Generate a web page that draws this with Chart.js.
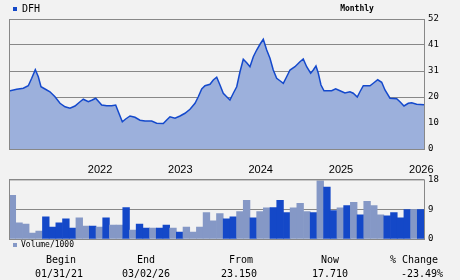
<!DOCTYPE html>
<html>
<head>
<meta charset="utf-8">
<script src="https://cdn.jsdelivr.net/npm/chart.js@4.4.0/dist/chart.umd.min.js"></script>
<style>
  html, body { margin: 0; padding: 0; background: #f2f2f2; }
  #wrap { position: relative; width: 460px; height: 280px; overflow: hidden; font-family: "DejaVu Sans Mono", monospace; color: #000; }
  canvas { position: absolute; left: 0; }
  #priceChart { top: 0; }
  #volChart { top: 170px; }
  .sq { position: absolute; width: 4px; height: 4px; }
  .txt { position: absolute; white-space: nowrap; line-height: 12px; }
  .stat { position: absolute; width: 100px; margin-left: -50px; text-align: center; font-size: 10px; line-height: 12px; }
</style>
</head>
<body>
<div id="wrap">
  <canvas id="priceChart" width="460" height="180"></canvas>
  <canvas id="volChart" width="460" height="80"></canvas>
  <div class="sq" style="left:13px; top:7px; background:#1448c8;"></div>
  <div class="txt" id="ticker" style="left:22px; top:3px; font-size:10px;"></div>
  <div class="txt" id="period" style="left:357px; top:3px; font-size:8px; font-weight:bold; transform:translateX(-50%);"></div>
  <div class="sq" style="left:13px; top:243px; background:#8598c6;"></div>
  <div class="txt" id="volLabel" style="left:21px; top:239px; font-size:8px;"></div>
  <div id="stats"></div>
</div>
<script>
// DFH monthly, x in months from left edge of the plot
const ticker = 'DFH';
const period = 'Monthly';
const yearLabels = ['2022', '2023', '2024', '2025', '2026'];
const firstYearAt = 13.6;
const priceTicks = [0, 10.4, 20.8, 31.2, 41.6, 52];
const volTicks = [0, 9, 18];

const priceMonth = [0, 1.15, 2.14, 2.88, 3.39, 3.93, 4.38, 4.78, 5.38, 6.12, 6.87, 7.62, 8.37, 9.11, 9.86,
  10.61, 11.1, 11.85, 12.44, 12.95, 13.85, 14.6, 15.34, 15.94, 16.33, 16.93, 17.43, 18.08, 18.82, 19.57,
  20.32, 21.32, 22.06, 23.05, 23.56, 24.05, 24.8, 25.55, 26.29, 27.04, 27.79, 28.28, 28.79, 29.28, 30.03,
  30.52, 31.03, 31.52, 32.01, 32.52, 33.01, 33.51, 34.02, 34.51, 35, 35.51, 36, 36.5, 37, 37.5, 37.99,
  38.5, 38.99, 39.48, 39.99, 40.48, 40.98, 41.48, 41.98, 42.72, 43.47, 43.96, 44.47, 45.07, 45.46, 45.86,
  46.21, 46.61, 47.06, 48.21, 48.8, 49.45, 50.19, 50.94, 51.43, 52.03, 52.43, 52.93, 53.93, 54.42, 55.08,
  55.68, 56.17, 56.92, 57.92, 58.41, 59.01, 59.65, 60.16, 60.9, 62];
const price = [23.2, 23.9, 24.3, 25.3, 28.3, 31.7, 28.9, 24.9, 24.0, 22.9, 20.9, 18.3, 16.9, 16.3, 17.2,
  18.9, 19.9, 18.9, 19.6, 20.3, 17.6, 17.3, 17.3, 17.6, 14.9, 10.9, 12.0, 13.2, 12.7, 11.5,
  11.2, 11.2, 10.3, 10.2, 11.6, 12.9, 12.3, 13.2, 14.3, 15.9, 18.3, 20.9, 24.0, 25.3, 25.9,
  27.6, 28.7, 25.6, 22.3, 20.9, 19.6, 22.3, 24.9, 30.9, 35.9, 34.5, 32.9, 36.9, 39.6, 41.9, 43.9,
  39.6, 36.3, 31.6, 28.3, 27.3, 26.3, 28.9, 31.6, 32.9, 34.9, 36.0, 32.9, 30.3, 31.6, 33.2,
  30.3, 25.6, 23.3, 23.3, 24.1, 23.3, 22.4, 22.9, 22.3, 20.8, 22.9, 25.3, 25.3, 26.3, 27.7,
  26.7, 23.6, 20.3, 20.1, 18.9, 17.2, 18.3, 18.5, 17.9, 17.7];

// volume per month (thousands), 1 = dark bar, 0 = light bar
const volume = [13.2, 4.9, 4.5, 1.8, 2.4, 6.7, 3.6, 4.9, 6.1, 3.3,
  6.4, 3.9, 3.9, 3.6, 6.4, 4.2, 4.2, 9.5, 2.7, 4.5,
  3.3, 3.3, 3.3, 4.2, 3.3, 2.1, 3.6, 2.1, 3.6, 8.0,
  5.5, 7.7, 6.1, 6.7, 8.3, 11.7, 6.4, 8.3, 9.4, 9.5,
  11.7, 8.0, 9.4, 10.8, 8.3, 8.0, 17.6, 15.7, 8.6, 9.4,
  10.1, 11.1, 7.3, 11.4, 10.1, 7.3, 7.0, 8.0, 6.4, 8.9,
  8.9, 8.9];
const volDark = [0, 0, 0, 0, 0, 1, 1, 1, 1, 1,
  0, 0, 1, 0, 1, 0, 0, 1, 0, 1,
  1, 0, 1, 1, 0, 1, 0, 0, 0, 0,
  0, 0, 1, 1, 0, 0, 1, 0, 0, 1,
  1, 1, 0, 0, 0, 1, 0, 1, 1, 0,
  1, 0, 1, 0, 0, 0, 1, 1, 1, 1,
  0, 1];

const statHeads = ['Begin', 'End', 'From', 'Now', '% Change'];
const statValues = ['01/31/21', '03/02/26', '23.150', '17.710', '-23.49%'];

const headX = [61, 146, 241, 330, 414];
const valueX = [59, 146, 239, 330, 422];

document.getElementById('ticker').textContent = ticker;
document.getElementById('period').textContent = period;
document.getElementById('volLabel').textContent = 'Volume/1000';
const statsBox = document.getElementById('stats');
statHeads.forEach((h, i) => {
  const a = document.createElement('div');
  a.className = 'stat';
  a.style.left = headX[i] + 'px';
  a.style.top = '254px';
  a.textContent = h;
  statsBox.appendChild(a);
  const b = document.createElement('div');
  b.className = 'stat';
  b.style.left = valueX[i] + 'px';
  b.style.top = '268px';
  b.textContent = statValues[i];
  statsBox.appendChild(b);
});

const frame = {
  id: 'frame',
  afterDatasetsDraw(chart) {
    const a = chart.chartArea, c = chart.ctx;
    c.save();
    c.strokeStyle = '#888';
    c.lineWidth = 1;
    c.strokeRect(a.left + 0.5, a.top + 0.5, a.right - a.left, a.bottom - a.top);
    c.restore();
  }
};

const axisFont = { family: 'DejaVu Sans Mono', size: 9 };

// Price chart
const priceCtx = document.getElementById('priceChart').getContext('2d');
const priceChart = new Chart(priceCtx, {
  type: 'line',
  data: {
    datasets: [{
      data: priceMonth.map((m, i) => ({ x: m, y: price[i] })),
      borderColor: '#1449cc',
      borderWidth: 1.5,
      backgroundColor: '#9cb0dc',
      fill: 'origin',
      pointRadius: 0,
      tension: 0
    }]
  },
  options: {
    responsive: false,
    animation: false,
    layout: { padding: { left: 9, top: 19, right: 0, bottom: 0 } },
    plugins: { legend: { display: false }, tooltip: { enabled: false } },
    scales: {
      x: {
        type: 'linear', min: 0, max: 62,
        afterBuildTicks: s => { s.ticks = yearLabels.map((y, i) => ({ value: firstYearAt + 12 * i })); },
        afterFit: s => { s.height = 31; },
        grid: { display: false, drawTicks: false },
        border: { display: false },
        ticks: {
          autoSkip: false, maxRotation: 0, padding: 14, color: '#000',
          font: { family: 'Liberation Sans', size: 11 },
          callback: (v, i) => yearLabels[i]
        }
      },
      y: {
        position: 'right', min: 0, max: 52,
        afterBuildTicks: s => { s.ticks = priceTicks.map(v => ({ value: v })); },
        afterFit: s => { s.width = 36; },
        grid: { color: '#888', drawTicks: false },
        border: { display: false },
        ticks: { padding: 4, color: '#000', font: axisFont, callback: v => Math.floor(v) }
      }
    }
  },
  plugins: [frame]
});

// Volume chart
const volCtx = document.getElementById('volChart').getContext('2d');
const volChart = new Chart(volCtx, {
  type: 'bar',
  data: {
    datasets: [{
      data: volume.map((v, i) => ({ x: i + 0.5, y: v })),
      backgroundColor: volDark.map(d => d ? '#1448c8' : '#8598c6'),
      borderWidth: 0,
      barPercentage: 1,
      categoryPercentage: 1
    }]
  },
  options: {
    responsive: false,
    animation: false,
    layout: { padding: { left: 9, top: 9, right: 0, bottom: 11 } },
    plugins: { legend: { display: false }, tooltip: { enabled: false } },
    scales: {
      x: { type: 'linear', min: 0, max: 62, offset: false, display: false },
      y: {
        position: 'right', min: 0, max: 18,
        afterBuildTicks: s => { s.ticks = volTicks.map(v => ({ value: v })); },
        afterFit: s => { s.width = 36; },
        grid: { color: '#888', drawTicks: false },
        border: { display: false },
        ticks: { padding: 4, color: '#000', font: axisFont }
      }
    }
  },
  plugins: [frame]
});
</script>
</body>
</html>
